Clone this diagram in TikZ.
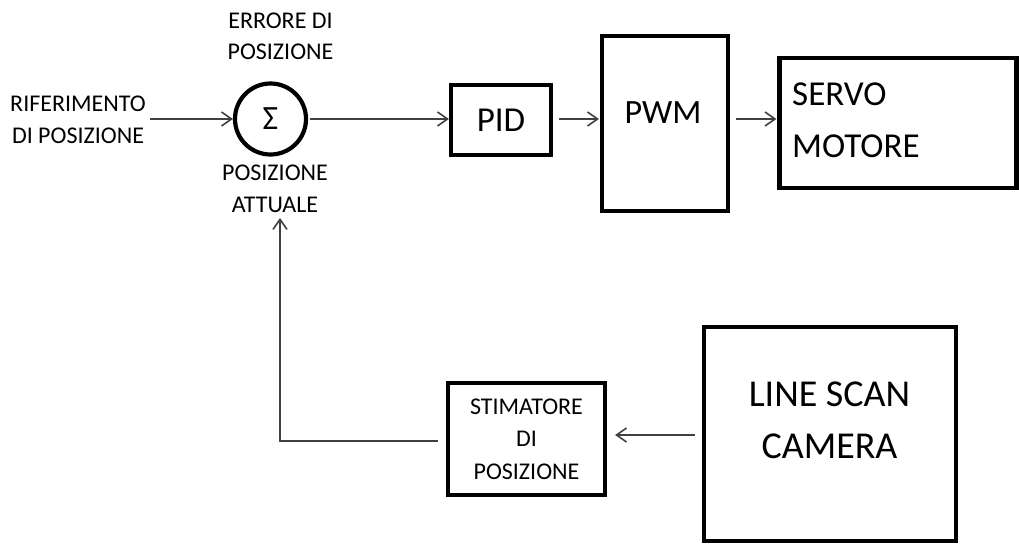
\documentclass[tikz,border=0pt]{standalone}
\usepackage{fontspec}
\setmainfont{Carlito}
\usetikzlibrary{arrows.meta}
\definecolor{arrowgray}{HTML}{404040}
\begin{document}
\begin{tikzpicture}[x=1pt,y=-1pt,
  blk/.style={draw=black, line width=4.2pt, rectangle, inner sep=0pt},
  conn/.style={draw=arrowgray, line width=1.6pt, -{Straight Barb[length=10pt,width=14pt]}},
  lbl/.style={inner sep=0pt, align=center, text=black}]
\useasboundingbox (0,0) rectangle (1019,544);
% labels
\node[lbl, font=\fontsize{24}{32}\selectfont] (ref) at (78,120) {RIFERIMENTO\\DI POSIZIONE};
\node[lbl, font=\fontsize{24}{31}\selectfont] (err) at (280.5,36.5) {ERRORE DI\\POSIZIONE};
\node[lbl, font=\fontsize{24}{32}\selectfont] (att) at (275,189) {POSIZIONE\\ATTUALE};
% summing junction
\node[draw=black, circle, line width=4.2pt, minimum size=71pt, inner sep=0pt, font=\fontsize{34}{36}\selectfont] (sum) at (270.5,119) {Σ};
% blocks
\node[blk, minimum width=100pt, minimum height=70pt, font=\fontsize{35}{40}\selectfont] (pid) at (501,120) {PID};
\node[blk, minimum width=126pt, minimum height=175pt] (pwm) at (665,123.5) {};
\node[lbl, font=\fontsize{34}{40}\selectfont] (pwmt) at (663,113) {PWM};
\node[blk, minimum width=237pt, minimum height=130pt] (servo) at (898,123) {};
\node[lbl, align=left, anchor=west, font=\fontsize{35}{52}\selectfont] (servot) at (792,120) {SERVO\\MOTORE};
\node[blk, minimum width=252pt, minimum height=214pt] (cam) at (830,434) {};
\node[lbl, font=\fontsize{38}{52}\selectfont] (camt) at (829.5,420) {LINE SCAN\\CAMERA};
\node[blk, minimum width=157pt, minimum height=112pt, align=center, font=\fontsize{24}{32.5}\selectfont] (stim) at (526.5,439) {STIMATORE\\DI\\POSIZIONE};
% free ends
\coordinate (refin) at (150,119);
\coordinate (corner) at (280,441);
\coordinate (fb) at (280,218);
% connectors
\draw[conn] (refin) -- (sum.west);
\draw[conn, shorten <=2pt] (sum.east) -- (sum.east -| pid.west);
\draw[conn, shorten <=6pt, shorten >=1pt] (pid.east |- sum.east) -- (pwm.west |- sum.east);
\draw[conn, shorten <=6pt, shorten >=1pt] (pwm.east |- sum.east) -- (servo.west |- sum.east);
\draw[conn, shorten <=7pt, shorten >=8pt] (cam.west |- 0,435) -- (stim.east |- 0,435);
\draw[conn, shorten <=8pt] (stim.west |- corner) -- (corner) -- (fb);
\end{tikzpicture}
\end{document}
